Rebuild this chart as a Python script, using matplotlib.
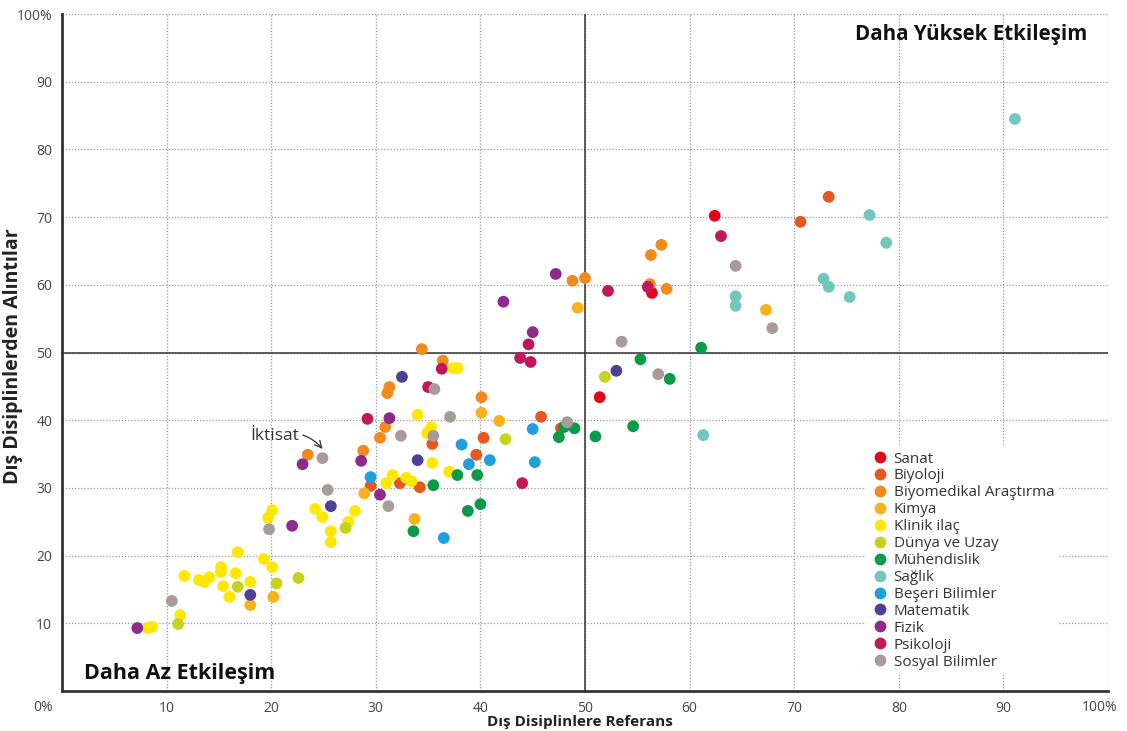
import matplotlib
matplotlib.use("Agg")
import matplotlib.pyplot as plt
from matplotlib.lines import Line2D

plt.rcParams['font.family'] = ['Open Sans', 'DejaVu Sans']

categories = ["Sanat", "Biyoloji", "Biyomedikal Araştırma", "Kimya", "Klinik ilaç",
              "Dünya ve Uzay", "Mühendislik", "Sağlık", "Beşeri Bilimler", "Matematik",
              "Fizik", "Psikoloji", "Sosyal Bilimler"]
colors = ["#e3061b", "#e8571f", "#f28b1e", "#f9b21b", "#ffe800",
          "#c8d21c", "#0a9a48", "#73c6bb", "#1ea0dc", "#4f3f97",
          "#8e2a8c", "#c2185b", "#a99c97"]

sanat_x = [62.4, 56.4, 51.4]
sanat_y = [70.2, 58.8, 43.4]

biyoloji_x = [73.3, 70.6, 45.8, 47.7, 40.3, 39.6, 35.4, 32.3, 34.2, 29.5]
biyoloji_y = [73.0, 69.3, 40.5, 38.8, 37.4, 34.9, 36.5, 30.7, 30.1, 30.3]

biyomed_x = [57.3, 56.3, 48.8, 50.0, 56.2, 57.8, 34.4, 36.4, 31.3, 31.1, 40.1, 30.9, 30.4, 28.8, 23.5]
biyomed_y = [65.9, 64.4, 60.6, 61.0, 60.1, 59.4, 50.5, 48.8, 44.9, 44.0, 43.4, 39.0, 37.4, 35.5, 34.9]

kimya_x = [49.3, 67.3, 40.1, 41.8, 28.9, 33.7, 20.2, 18.0]
kimya_y = [56.6, 56.3, 41.1, 39.9, 29.2, 25.4, 13.9, 12.7]

klinik_x = [37.4, 37.8, 34.0, 35.3, 34.9, 35.4, 37.0, 31.6, 32.9, 33.4, 31.0, 28.0,
            24.9, 27.4, 25.7, 25.7, 20.1, 19.7, 24.2, 16.8, 19.3, 20.1, 11.7, 15.2,
            15.2, 16.6, 13.1, 13.6, 14.1, 15.4, 18.0, 16.0, 11.3, 8.2, 8.6]
klinik_y = [47.7, 47.7, 40.8, 39.0, 38.1, 33.7, 32.4, 31.9, 31.5, 31.0, 30.7, 26.6,
            25.7, 25.0, 23.6, 22.0, 26.7, 25.6, 26.9, 20.5, 19.5, 18.3, 17.0, 18.3,
            17.6, 17.4, 16.4, 16.1, 16.8, 15.5, 16.1, 13.9, 11.2, 9.3, 9.5]

dunya_x = [42.4, 51.9, 27.1, 16.8, 20.5, 22.6, 11.1]
dunya_y = [37.2, 46.4, 24.1, 15.4, 15.9, 16.7, 9.9]

muh_x = [37.8, 39.7, 35.5, 40.0, 38.8, 33.6, 55.3, 58.1, 48.0, 49.0, 47.5, 51.0, 54.6, 61.1]
muh_y = [31.9, 31.9, 30.4, 27.6, 26.6, 23.6, 49.0, 46.1, 39.0, 38.8, 37.5, 37.6, 39.1, 50.7]

saglik_x = [91.1, 77.2, 78.8, 72.8, 73.3, 75.3, 64.4, 64.4, 61.3]
saglik_y = [84.5, 70.3, 66.2, 60.9, 59.7, 58.2, 58.3, 56.9, 37.8]

beseri_x = [38.2, 40.9, 38.9, 29.5, 36.5, 45.0, 45.2]
beseri_y = [36.4, 34.1, 33.5, 31.6, 22.6, 38.7, 33.8]

matematik_x = [32.5, 34.0, 25.7, 53.0, 18.0]
matematik_y = [46.4, 34.1, 27.3, 47.3, 14.2]

fizik_x = [31.3, 28.6, 30.4, 23.0, 22.0, 45.0, 47.2, 42.2, 7.2]
fizik_y = [40.3, 34.0, 29.0, 33.5, 24.4, 53.0, 61.6, 57.5, 9.3]

psikoloji_x = [36.3, 35.0, 29.2, 44.6, 43.8, 44.8, 52.2, 56.0, 63.0, 44.0]
psikoloji_y = [47.6, 44.9, 40.2, 51.2, 49.2, 48.6, 59.1, 59.7, 67.2, 30.7]

sosyal_x = [35.6, 37.1, 35.5, 32.4, 25.4, 31.2, 24.9, 19.8, 10.5, 53.5, 57.0, 48.3, 64.4, 67.9]
sosyal_y = [44.6, 40.5, 37.7, 37.7, 29.7, 27.3, 34.4, 23.9, 13.3, 51.6, 46.8, 39.7, 62.8, 53.6]

series = [(sanat_x, sanat_y), (biyoloji_x, biyoloji_y), (biyomed_x, biyomed_y),
          (kimya_x, kimya_y), (klinik_x, klinik_y), (dunya_x, dunya_y),
          (muh_x, muh_y), (saglik_x, saglik_y), (beseri_x, beseri_y),
          (matematik_x, matematik_y), (fizik_x, fizik_y), (psikoloji_x, psikoloji_y),
          (sosyal_x, sosyal_y)]

tick_vals = [0, 10, 20, 30, 40, 50, 60, 70, 80, 90, 100]
x_tick_labels = ["", "10", "20", "30", "40", "50", "60", "70", "80", "90", ""]
y_tick_labels = ["", "10", "20", "30", "40", "50", "60", "70", "80", "90", "100%"]

fig = plt.figure(figsize=(11.27, 7.31), dpi=100)
ax = fig.add_axes([62 / 1127, 1 - 691 / 731, (1108 - 62) / 1127, (691 - 14) / 731])
ax.set_xlim(0, 100)
ax.set_ylim(0, 100)

ax.grid(True, linestyle=(0, (1, 1.5)), color="#9a9a9a", linewidth=0.9, zorder=0)
ax.set_axisbelow(True)
ax.axvline(50, color="#333333", linewidth=1.1, zorder=1)
ax.axhline(50, color="#333333", linewidth=1.1, zorder=1)

for (xs, ys), c in zip(series, colors):
    ax.scatter(xs, ys, s=72, color=c, edgecolors="none", zorder=3)

for s in ["top", "right"]:
    ax.spines[s].set_visible(False)
for s in ["left", "bottom"]:
    ax.spines[s].set_linewidth(2)
    ax.spines[s].set_color("#333333")
    ax.spines[s].set_zorder(4)

ax.set_xticks(tick_vals)
ax.set_xticklabels(x_tick_labels)
ax.set_yticks(tick_vals)
ax.set_yticklabels(y_tick_labels)
ax.tick_params(length=0, labelsize=10, labelcolor="#444444", pad=7)
ax.text(-0.9, -1.3, "0%", ha="right", va="top", fontsize=10, color="#444444",
        transform=ax.transData, clip_on=False)
ax.text(99.2, -1.3, "100%", ha="center", va="top", fontsize=10, color="#444444",
        transform=ax.transData, clip_on=False)

ax.set_xlabel("Dış Disiplinlere Referans", fontsize=11, fontweight="bold",
              color="#222222")
ax.set_ylabel("Dış Disiplinlerden Alıntılar", fontsize=14, fontweight="bold",
              color="#222222")
ax.xaxis.set_label_coords(0.495, -0.035)
ax.yaxis.set_label_coords(-0.037, 0.495)

ax.text(98.0, 97, "Daha Yüksek Etkileşim", ha="right", va="center",
        fontsize=14.8, fontweight="bold", color="#111111")
ax.text(2.1, 2.6, "Daha Az Etkileşim", ha="left", va="center",
        fontsize=15.5, fontweight="bold", color="#111111")

ax.annotate("İktisat", xy=(25.0, 35.6), xytext=(20.3, 37.6),
            ha="center", va="center", fontsize=12.5, color="#333333",
            arrowprops=dict(arrowstyle="->", color="#333333", linewidth=0.9,
                            connectionstyle="arc3,rad=-0.35",
                            shrinkA=1, shrinkB=1), zorder=5)

handles = [Line2D([0], [0], marker="o", linestyle="none", markersize=8.5,
                  markerfacecolor=c, markeredgecolor="none") for c in colors]
leg = ax.legend(handles, categories, loc="upper left",
                bbox_to_anchor=(866 / 1127, 1 - 447 / 731),
                bbox_transform=fig.transFigure, frameon=True, framealpha=1,
                facecolor="white", edgecolor="none", fontsize=11,
                labelspacing=0.125, handletextpad=0.3, handlelength=1.2,
                borderpad=0.3, borderaxespad=0)
for t in leg.get_texts():
    t.set_color("#333333")
leg.set_zorder(6)

fig.savefig("out.png", dpi=100)
